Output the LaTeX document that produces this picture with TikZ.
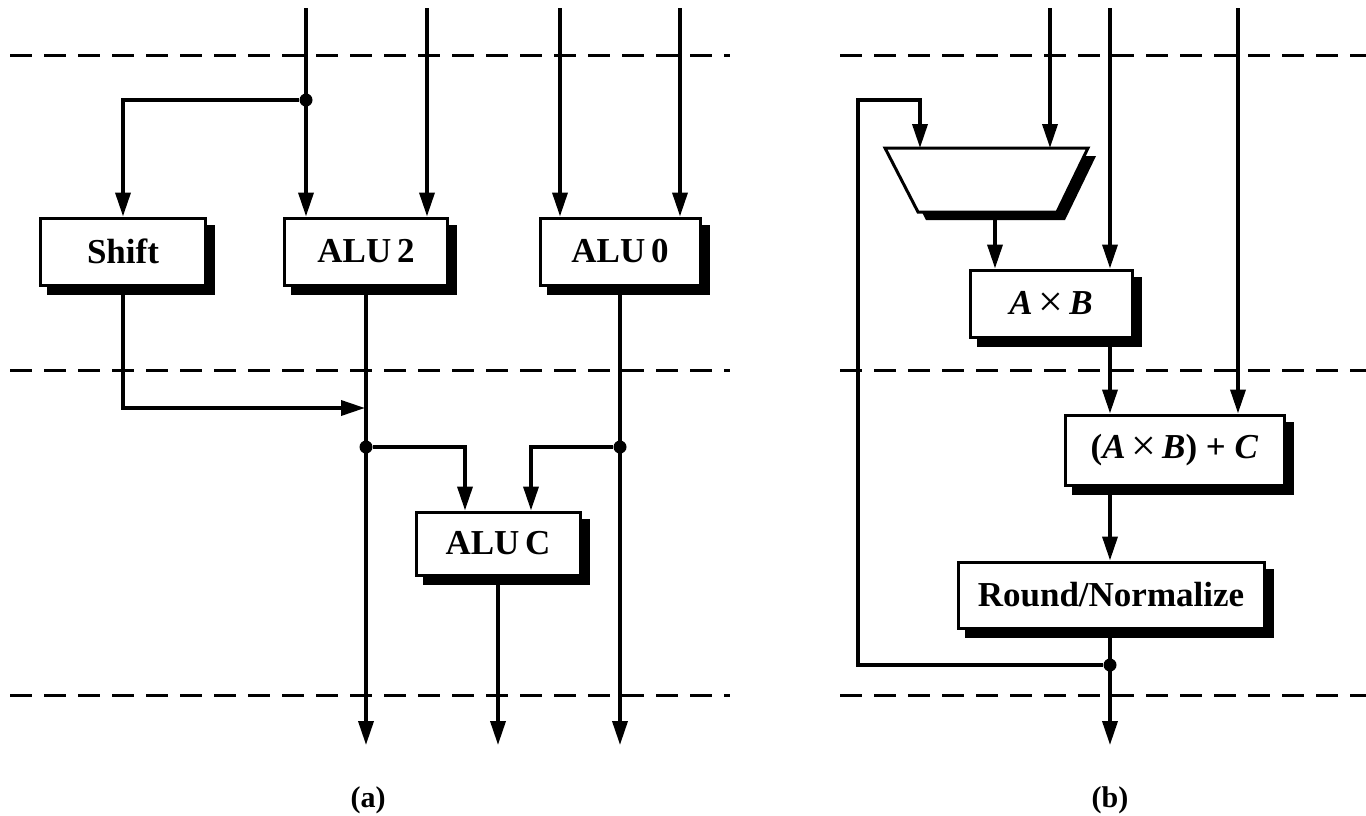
\documentclass[tikz,border=0pt]{standalone}
\usepackage{fontspec}
\setmainfont{Liberation Serif}
\usetikzlibrary{arrows.meta,shadows}
\newcommand{\bigtimes}{\,\raisebox{-2pt}{\fontsize{44}{44}\selectfont\mdseries ×}\,}
\begin{document}
\begin{tikzpicture}[x=1pt,y=-1pt,
  wire/.style={line width=3.6pt},
  arr/.style={wire,-{Triangle[length=24pt,width=15pt]}},
  sep/.style={line width=3pt,dash pattern=on 22pt off 12pt},
  blk/.style={draw,line width=3pt,fill=white,inner sep=0pt,
    font=\fontsize{35}{40}\selectfont\bfseries,
    copy shadow={shadow xshift=8pt,shadow yshift=-8pt,fill=black,draw=black}},
  dot/.style={circle,fill,inner sep=0pt,minimum size=13pt},
  capt/.style={font=\fontsize{30}{34}\selectfont\bfseries}]
\useasboundingbox (0,0) rectangle (1366,815);
% stage separators
\foreach \yy in {55,370,695}{
  \draw[sep] (10,\yy) -- (730,\yy);
  \draw[sep] (840,\yy) -- (1366,\yy);
}
% ---------------- (a) ----------------
\node[blk,minimum width=165pt,minimum height=67pt] (shift) at (123,251.5) {Shift};
\node[blk,minimum width=163pt,minimum height=67pt] (alu2) at (366,251.5) {ALU\,2};
\node[blk,minimum width=160pt,minimum height=67pt] (alu0) at (620,251.5) {ALU\,0};
\node[blk,minimum width=164pt,minimum height=63pt] (aluc) at (498,543.5) {ALU\,C};
\coordinate (ta1) at (306,8);
\coordinate (ta2) at (427,8);
\coordinate (ta3) at (560,8);
\coordinate (ta4) at (680,8);
\node[dot] (j1) at (306,100) {};
\draw[arr] (ta1) -- (ta1 |- alu2.north);
\draw[arr] (ta2) -- (ta2 |- alu2.north);
\draw[arr] (ta3) -- (ta3 |- alu0.north);
\draw[arr] (ta4) -- (ta4 |- alu0.north);
\draw[arr] (j1) -| (shift.north);
\coordinate (m1) at (365,408);
\draw[arr] (shift.south) |- (m1);
\coordinate (oa1) at (366,745);
\coordinate (oa2) at (498,745);
\coordinate (oa3) at (620,745);
\draw[arr] (alu2.south) -- (oa1);
\draw[arr] (alu0.south) -- (oa3);
\draw[arr] (aluc.south) -- (oa2);
\node[dot] (j2) at (366,447) {};
\node[dot] (j3) at (620,447) {};
\draw[arr] (j2) -| ([xshift=-33pt]aluc.north);
\draw[arr] (j3) -| ([xshift=33pt]aluc.north);
\node[capt] (capa) at (368,800) {(a)};
% ---------------- (b) ----------------
\fill[black] (893,156) -- (1096,156) -- (1065,220) -- (926,220) -- cycle;
\filldraw[fill=white,draw=black,line width=3pt] (885,148) -- (1088,148) -- (1057,212) -- (918,212) -- cycle;
\coordinate (mxa) at (920,148);
\coordinate (mxb) at (1050,148);
\coordinate (mxo) at (995,220);
\node[blk,minimum width=162pt,minimum height=67pt] (axb) at (1051,303.5) {\textit{A}\bigtimes\textit{B}};
\node[blk,minimum width=219pt,minimum height=70pt] (abc) at (1174.5,450) {(\textit{A}\bigtimes\textit{B}) + \textit{C}};
\node[blk,minimum width=306pt,minimum height=66pt] (rnd) at (1111,595) {Round/Normalize};
\coordinate (tb1) at (1050,8);
\coordinate (tb2) at (1110,8);
\coordinate (tb3) at (1238,8);
\draw[arr] (tb1) -- (mxb);
\draw[arr] (tb2) -- (tb2 |- axb.north);
\draw[arr] (tb3) -- (tb3 |- abc.north);
\draw[arr] (mxo) -- (mxo |- axb.north);
\draw[arr] (tb2 |- axb.south) -- (tb2 |- abc.north);
\draw[arr] (tb2 |- abc.south) -- (tb2 |- rnd.north);
\coordinate (ob) at (1110,745);
\draw[arr] (tb2 |- rnd.south) -- (ob);
\node[dot] (j4) at (1110,665) {};
\coordinate (fb) at (858,100);
\draw[arr] (j4) -| (fb) -| (mxa);
\node[capt] (capb) at (1110,800) {(b)};
\end{tikzpicture}
\end{document}
